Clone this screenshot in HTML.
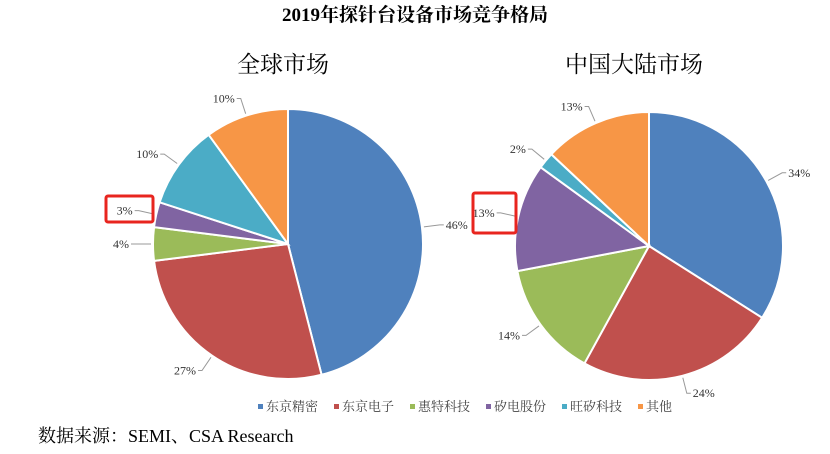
<!DOCTYPE html>
<html><head><meta charset="utf-8"><style>
body{margin:0;background:#fff;}
svg{display:block;font-family:"Liberation Serif","Noto Serif CJK SC",serif;}
</style></head><body>
<svg id="c" width="830" height="454">
<text x="415" y="21" text-anchor="middle" font-size="19" font-weight="bold">2019年探针台设备市场竞争格局</text>
<text x="283" y="72" text-anchor="middle" font-size="23">全球市场</text>
<text x="634" y="72" text-anchor="middle" font-size="23">中国大陆市场</text>
<g id="pies"></g>
<rect x="106" y="196" width="47" height="26" fill="none" stroke="#e8251f" stroke-width="3" rx="2"/>
<rect x="473" y="193" width="43" height="40" fill="none" stroke="#e8251f" stroke-width="3" rx="2"/>
<g id="legend" font-size="13"></g>
<text x="38" y="442" font-size="18">数据来源：SEMI、CSA Research</text>
</svg>
<script>
const categories=["东京精密","东京电子","惠特科技","矽电股份","旺矽科技","其他"];
const globalValues=[46,27,4,3,10,10];
const chinaValues=[34,24,14,13,2,13];
const colors=["#4f81bd","#c0504d","#9bbb59","#8064a2","#4bacc6","#f79646"];
const NS="http://www.w3.org/2000/svg";
const pies=document.getElementById('pies');
function mk(t,a){const e=document.createElementNS(NS,t);for(const k in a)e.setAttribute(k,a[k]);return e;}
function drawPie(vals,cx,cy,r,name){
  const tot=vals.reduce((a,b)=>a+b,0);let a0=-Math.PI/2;
  vals.forEach((v,i)=>{
    const a1=a0+v/tot*2*Math.PI;
    const x0=cx+r*Math.cos(a0),y0=cy+r*Math.sin(a0),x1=cx+r*Math.cos(a1),y1=cy+r*Math.sin(a1);
    const large=(a1-a0)>Math.PI?1:0;
    const p=mk('path',{d:`M${cx},${cy}L${x0},${y0}A${r},${r} 0 ${large} 1 ${x1},${y1}Z`,fill:colors[i],stroke:'#fff','stroke-width':2});
    
    
    pies.appendChild(p);
    const am=(a0+a1)/2;
    const ex=cx+(r+2)*Math.cos(am),ey=cy+(r+2)*Math.sin(am);
    const lx=cx+(r+18)*Math.cos(am),ly=cy+(r+18)*Math.sin(am);
    const right=Math.cos(am)>=0;
    const ln=mk('polyline',{points:`${ex},${ey} ${lx},${ly} ${lx+(right?4:-4)},${ly}`,fill:'none',stroke:'#999','stroke-width':1});
    
    
    pies.appendChild(ln);
    const t=mk('text',{x:lx+(right?6:-6),y:ly+4,'font-size':12,'text-anchor':right?'start':'end',fill:'#333'});
    t.textContent=v+'%';
    
    
    pies.appendChild(t);
    a0=a1;
  });
}
drawPie(globalValues,288,244,135,'global');
drawPie(chinaValues,649,246,134,'china');
const lg=document.getElementById('legend');
let x=258;
categories.forEach((c,i)=>{
  const g=mk('g',{});
  
  
  g.appendChild(mk('rect',{x:x,y:404,width:5,height:5,fill:colors[i]}));
  const t=mk('text',{x:x+8,y:411,fill:'#444'});t.textContent=c;g.appendChild(t);
  lg.appendChild(g);
  x+= c.length===2?48:76;
});
</script>
</body></html>
